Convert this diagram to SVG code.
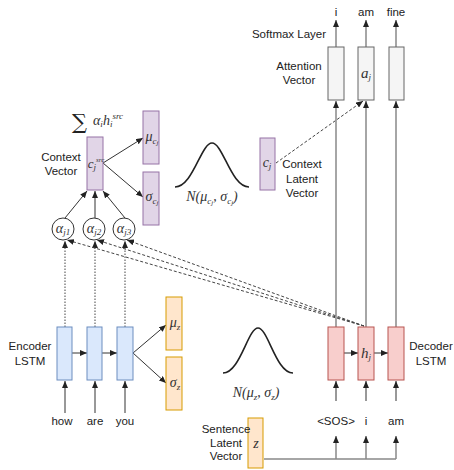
<svg xmlns="http://www.w3.org/2000/svg" width="454" height="470" viewBox="0 0 454 470">
<defs>
<marker id="ah" markerWidth="7" markerHeight="6" refX="7" refY="3" orient="auto" markerUnits="userSpaceOnUse"><path d="M0,0 L7,3 L0,6 Z" fill="#222"/></marker>
<style>
.t{font-family:"Liberation Sans",Arial,sans-serif;font-size:11.5px;fill:#222;text-anchor:middle}
.m{font-family:"Liberation Serif","Times New Roman",serif;font-style:italic;font-size:14px;fill:#333;text-anchor:middle}
.s{font-size:9px}
.ss{font-size:7px}
.enc{fill:#dae8fc;stroke:#6c8ebf;stroke-width:1}
.dec{fill:#f8cecc;stroke:#b85450;stroke-width:1}
.att{fill:#f5f5f5;stroke:#666;stroke-width:1}
.pur{fill:#e1d5e7;stroke:#9673a6;stroke-width:1}
.org{fill:#ffe6cc;stroke:#d79b00;stroke-width:1}
.a{stroke:#333;stroke-width:1;fill:none;marker-end:url(#ah)}
.g{stroke:#888;stroke-width:1.5;fill:none;marker-end:url(#ah)}
.d{stroke:#444;stroke-width:1;fill:none;stroke-dasharray:3 2;marker-end:url(#ah)}
.dt{stroke:#444;stroke-width:1;fill:none;stroke-dasharray:1.5 1.5;marker-end:url(#ah)}
.c{stroke:#222;stroke-width:1.6;fill:none}
.circ{fill:#fff;stroke:#333;stroke-width:1}
</style>
</defs>
<g id="connectors">
<line class="a" x1="65" y1="413" x2="65" y2="381"/>
<line class="a" x1="95" y1="413" x2="95" y2="381"/>
<line class="a" x1="125" y1="413" x2="125" y2="381"/>
<line class="a" x1="72" y1="353" x2="87" y2="353"/>
<line class="a" x1="102" y1="353" x2="117" y2="353"/>
<line class="a" x1="133" y1="353" x2="166" y2="325"/>
<line class="a" x1="133" y1="353" x2="166" y2="383"/>
<line class="dt" x1="65" y1="327" x2="65" y2="241"/>
<line class="dt" x1="95" y1="327" x2="95" y2="241"/>
<line class="dt" x1="125" y1="327" x2="125" y2="241"/>
<line class="d" x1="364" y1="326" x2="67" y2="240"/>
<line class="d" x1="364" y1="326" x2="97" y2="240"/>
<line class="d" x1="364" y1="326" x2="127" y2="240"/>
<line class="a" x1="65" y1="218" x2="87" y2="191"/>
<line class="a" x1="95" y1="218" x2="95" y2="191"/>
<line class="a" x1="125" y1="218" x2="103" y2="191"/>
<line class="a" x1="103" y1="163" x2="143" y2="138"/>
<line class="a" x1="103" y1="163" x2="143" y2="197"/>
<line class="d" x1="276" y1="163" x2="363" y2="101"/>
<line class="a" x1="336" y1="401" x2="336" y2="381"/>
<line class="a" x1="366" y1="401" x2="366" y2="381"/>
<line class="a" x1="396" y1="401" x2="396" y2="381"/>
<line class="a" x1="344" y1="353" x2="358" y2="353"/>
<line class="a" x1="374" y1="353" x2="388" y2="353"/>
<line class="g" x1="336" y1="327" x2="336" y2="101"/>
<line class="g" x1="366" y1="327" x2="366" y2="101"/>
<line class="g" x1="396" y1="327" x2="396" y2="101"/>
<line class="g" x1="336" y1="47" x2="336" y2="20"/>
<line class="g" x1="366" y1="47" x2="366" y2="20"/>
<line class="g" x1="396" y1="47" x2="396" y2="20"/>
<polyline points="264,459 396,459" stroke="#888" stroke-width="1.5" fill="none"/>
<line class="g" x1="336" y1="459" x2="336" y2="436"/>
<line class="g" x1="366" y1="459" x2="366" y2="436"/>
<line class="g" x1="396" y1="459" x2="396" y2="436"/>
</g>
<g id="encoder">
<rect class="enc" x="57" y="327" width="15" height="53"/>
<rect class="enc" x="87" y="327" width="15" height="53"/>
<rect class="enc" x="117" y="327" width="16" height="53"/>
<text class="t" x="30" y="350">Encoder</text>
<text class="t" x="30" y="365">LSTM</text>
</g>
<g id="inputs">
<text class="t" x="62" y="425">how</text>
<text class="t" x="95" y="425">are</text>
<text class="t" x="125" y="425">you</text>
</g>
<g id="z-params">
<rect class="org" x="166" y="297" width="16" height="53"/>
<rect class="org" x="166" y="357" width="16" height="53"/>
<text class="m" x="175" y="327">μ<tspan class="s" dy="3">z</tspan></text>
<text class="m" x="175" y="387">σ<tspan class="s" dy="3">z</tspan></text>
</g>
<g id="gauss-z">
<path class="c" d="M223,373 C240,373 248,328 258,328 C268,328 276,373 293,373"/>
<text class="m" x="256" y="397">N(μ<tspan class="s" dy="3">z</tspan><tspan dy="-3">, σ</tspan><tspan class="s" dy="3">z</tspan><tspan dy="-3">)</tspan></text>
</g>
<g id="sentence-latent">
<rect class="org" x="248" y="418" width="15" height="50"/>
<text class="m" x="256" y="448">z</text>
<text class="t" x="226" y="433">Sentence</text>
<text class="t" x="226" y="447">Latent</text>
<text class="t" x="226" y="460">Vector</text>
</g>
<g id="alphas">
<circle class="circ" cx="63" cy="229" r="11"/>
<circle class="circ" cx="94" cy="229" r="11"/>
<circle class="circ" cx="124" cy="229" r="11"/>
<text class="m" x="63" y="233">α<tspan class="s" dy="2">j1</tspan></text>
<text class="m" x="94" y="233">α<tspan class="s" dy="2">j2</tspan></text>
<text class="m" x="124" y="233">α<tspan class="s" dy="2">j3</tspan></text>
</g>
<g id="context-vector">
<rect class="pur" x="87" y="137" width="16" height="53"/>
<text class="m" x="96" y="168" style="font-size:13px">c<tspan class="s" dy="2">j</tspan><tspan class="ss" dy="-8">src</tspan></text>
<text class="t" x="61" y="161">Context</text>
<text class="t" x="61" y="175">Vector</text>
<text x="72" y="129" style="font-family:'DejaVu Serif',serif;font-size:21px;fill:#222">∑</text>
<text class="m" x="93" y="125" style="text-anchor:start">α<tspan class="s" dy="2">i</tspan><tspan dy="-2">h</tspan><tspan class="s" dy="2">i</tspan><tspan class="s" dy="-8">src</tspan></text>
</g>
<g id="c-params">
<rect class="pur" x="143" y="111" width="16" height="53"/>
<rect class="pur" x="143" y="172" width="16" height="53"/>
<text class="m" x="152" y="141">μ<tspan class="s" dy="3">c</tspan><tspan class="ss" dy="1">j</tspan></text>
<text class="m" x="152" y="201">σ<tspan class="s" dy="3">c</tspan><tspan class="ss" dy="1">j</tspan></text>
</g>
<g id="gauss-c">
<path class="c" d="M175,187 C193,187 201,143 212,143 C223,143 231,187 249,187"/>
<text class="m" x="212" y="201">N(μ<tspan class="s" dy="3">c</tspan><tspan class="ss" dy="1">j</tspan><tspan dy="-4">, σ</tspan><tspan class="s" dy="3">c</tspan><tspan class="ss" dy="1">j</tspan><tspan dy="-4">)</tspan></text>
</g>
<g id="context-latent">
<rect class="pur" x="260" y="138" width="15" height="52"/>
<text class="m" x="267" y="167">c<tspan class="s" dy="2">j</tspan></text>
<text class="t" x="302" y="168">Context</text>
<text class="t" x="302" y="183">Latent</text>
<text class="t" x="302" y="197">Vector</text>
</g>
<g id="decoder">
<rect class="dec" x="328" y="327" width="16" height="53"/>
<rect class="dec" x="358" y="327" width="16" height="53"/>
<rect class="dec" x="388" y="327" width="16" height="53"/>
<text class="m" x="366" y="358" style="font-size:15px">h<tspan class="s" dy="2">j</tspan></text>
<text class="t" x="431" y="350">Decoder</text>
<text class="t" x="431" y="365">LSTM</text>
</g>
<g id="decoder-inputs">
<text class="t" x="336" y="425">&lt;SOS&gt;</text>
<text class="t" x="366" y="425">i</text>
<text class="t" x="396" y="425">am</text>
</g>
<g id="attention">
<rect class="att" x="328" y="47" width="16" height="53"/>
<rect class="att" x="358" y="47" width="16" height="53"/>
<rect class="att" x="389" y="47" width="15" height="53"/>
<text class="m" x="366" y="78" style="font-size:15px">a<tspan class="s" dy="2">j</tspan></text>
<text class="t" x="299" y="70">Attention</text>
<text class="t" x="299" y="84">Vector</text>
<text class="t" x="289" y="38">Softmax Layer</text>
</g>
<g id="outputs">
<text class="t" x="336" y="16">i</text>
<text class="t" x="366" y="16">am</text>
<text class="t" x="396" y="16">fine</text>
</g>
</svg>
